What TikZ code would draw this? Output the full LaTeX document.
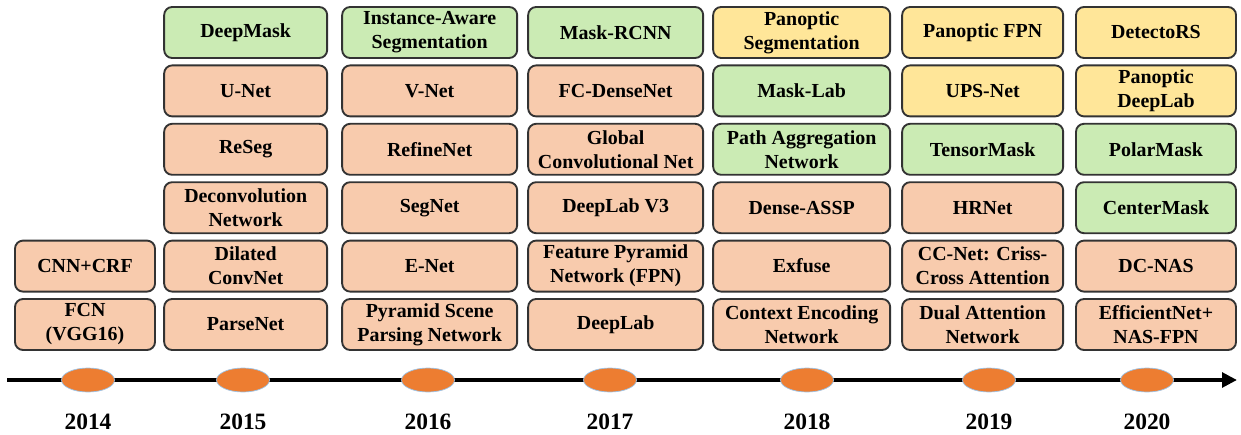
\documentclass[tikz,border=0pt]{standalone}
\usepackage{fontspec}
\setmainfont{Liberation Serif}
\usepackage{tikz}
\usetikzlibrary{arrows.meta,shapes.geometric}
\definecolor{peach}{HTML}{F8CBAD}
\definecolor{leaf}{HTML}{CBEBB4}
\definecolor{gold}{HTML}{FFE699}
\definecolor{edgegray}{HTML}{333333}
\definecolor{dotorange}{HTML}{ED7D31}
\definecolor{dotedge}{HTML}{9DC3E6}
\tikzstyle{model} = [draw=edgegray, line width=1.6pt, rounded corners=0.24cm, minimum height=1.53cm, inner sep=1pt, align=center, font=\fontsize{17}{20.5}\selectfont\bfseries]
\tikzstyle{obox} = [model, fill=peach]
\tikzstyle{gbox} = [model, fill=leaf]
\tikzstyle{ybox} = [model, fill=gold]
\tikzstyle{yeardot} = [ellipse, draw=dotedge, line width=0.6pt, fill=dotorange, minimum width=1.59cm, minimum height=0.72cm, inner sep=0pt]
\tikzstyle{yearlabel} = [font=\fontsize{20}{23}\selectfont\bfseries]
\tikzstyle{arrow} = [-{Triangle[length=0.45cm,width=0.44cm]}, line width=3.4pt]

\begin{document}
\begin{tikzpicture}
    \useasboundingbox (0,0) rectangle (37.23,-13.05);

    % 2014
    \foreach \r/\s/\t in {5/obox/{CNN+CRF}, 6/obox/{FCN\\(VGG16)}} {
        \node[\s, minimum width=4.2cm] (m14-\r) at (2.55,{-0.975-1.752*(\r-1)}) {\t};
    }

    % 2015
    \foreach \r/\s/\t in {1/gbox/{DeepMask}, 2/obox/{U-Net}, 3/obox/{ReSeg}, 4/obox/{Deconvolution\\Network}, 5/obox/{Dilated\\ConvNet}, 6/obox/{ParseNet}} {
        \node[\s, minimum width=4.89cm] (m15-\r) at (7.37,{-0.975-1.752*(\r-1)}) {\t};
    }

    % 2016
    \foreach \r/\s/\t in {1/gbox/{Instance-Aware\\Segmentation}, 2/obox/{V-Net}, 3/obox/{RefineNet}, 4/obox/{SegNet}, 5/obox/{E-Net}, 6/obox/{Pyramid Scene\\Parsing Network}} {
        \node[\s, minimum width=5.25cm] (m16-\r) at (12.89,{-0.975-1.752*(\r-1)}) {\t};
    }

    % 2017
    \foreach \r/\s/\t in {1/gbox/{Mask-RCNN}, 2/obox/{FC-DenseNet}, 3/obox/{Global\\Convolutional Net}, 4/obox/{DeepLab V3}, 5/obox/{Feature Pyramid\\Network (FPN)}, 6/obox/{DeepLab}} {
        \node[\s, minimum width=5.25cm] (m17-\r) at (18.47,{-0.975-1.752*(\r-1)}) {\t};
    }

    % 2018
    \foreach \r/\s/\t in {1/ybox/{Panoptic\\Segmentation}, 2/gbox/{Mask-Lab}, 3/gbox/{Path Aggregation\\Network}, 4/obox/{Dense-ASSP}, 5/obox/{Exfuse}, 6/obox/{Context Encoding\\Network}} {
        \node[\s, minimum width=5.31cm] (m18-\r) at (24.05,{-0.975-1.752*(\r-1)}) {\t};
    }

    % 2019
    \foreach \r/\s/\t in {1/ybox/{Panoptic FPN}, 2/ybox/{UPS-Net}, 3/gbox/{TensorMask}, 4/obox/{HRNet}, 5/obox/{CC-Net: Criss-\\Cross Attention}, 6/obox/{Dual Attention\\Network}} {
        \node[\s, minimum width=4.83cm] (m19-\r) at (29.48,{-0.975-1.752*(\r-1)}) {\t};
    }

    % 2020
    \foreach \r/\s/\t in {1/ybox/{DetectoRS}, 2/ybox/{Panoptic\\DeepLab}, 3/gbox/{PolarMask}, 4/gbox/{CenterMask}, 5/obox/{DC-NAS}, 6/obox/{EfficientNet+\\NAS-FPN}} {
        \node[\s, minimum width=4.8cm] (m20-\r) at (34.68,{-0.975-1.752*(\r-1)}) {\t};
    }

    % Timeline
    \coordinate (tstart) at (0.21,-11.4);
    \coordinate (tend) at (37.11,-11.4);
    \draw[arrow] (tstart) -- (tend);

    % Years
    \foreach \yr/\x in {2014/2.64, 2015/7.29, 2016/12.84, 2017/18.3, 2018/24.21, 2019/29.67, 2020/34.41} {
        \node[yeardot] (dot\yr) at (\x,-11.4) {};
        \node[yearlabel] (yr\yr) at (\x,-12.66) {\yr};
    }
\end{tikzpicture}
\end{document}
